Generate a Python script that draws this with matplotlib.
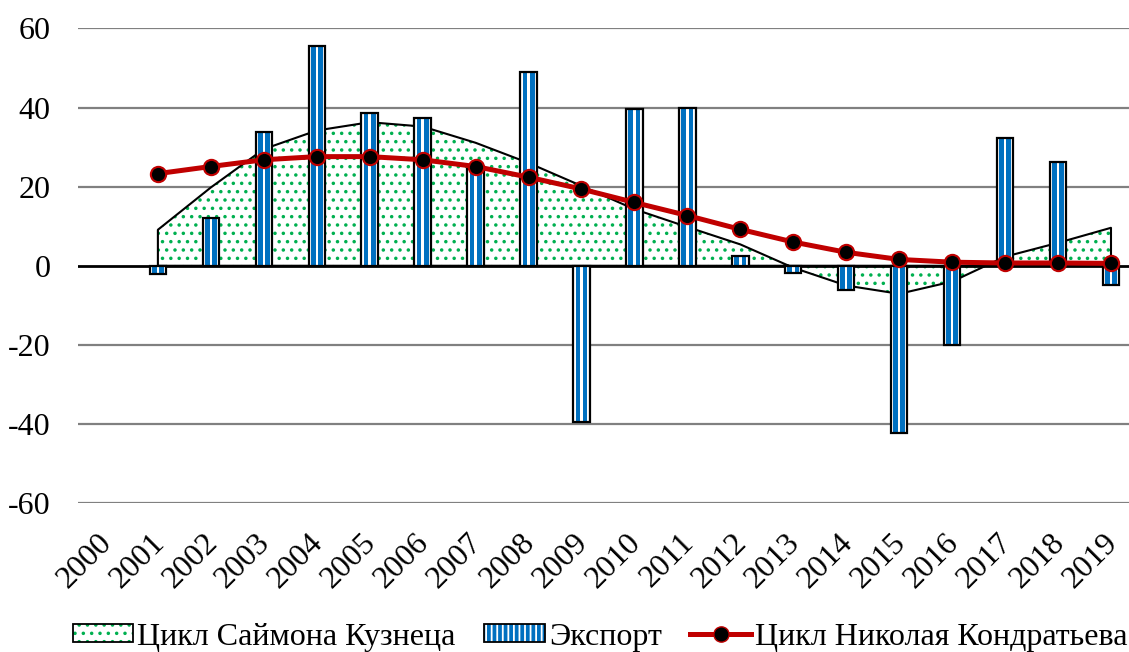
import numpy as np
import matplotlib
matplotlib.use('Agg')
import matplotlib.pyplot as plt
from matplotlib.patches import Patch
from matplotlib.lines import Line2D
from matplotlib.legend_handler import HandlerTuple
from matplotlib.transforms import ScaledTranslation

plt.rcParams['font.family'] = ['Liberation Serif', 'DejaVu Serif']
plt.rcParams['font.size'] = 23
plt.rcParams['axes.unicode_minus'] = False
plt.rcParams['hatch.linewidth'] = 1.3

# данные
years = [str(y) for y in range(2000, 2020)]
export = [np.nan, -2, 12.2, 33.8, 55.6, 38.6, 37.4, 24.5, 49.1, -39.5,
          39.6, 40.0, 2.5, -1.8, -6.1, -42.2, -20.0, 32.2, 26.2, -4.8]
kuznets = [np.nan, 9.1, 19.8, 29.5, 34.2, 36.3, 35.2, 31.1, 26.0, 20.2,
           14.3, 9.8, 5.4, -0.5, -5.0, -7.1, -4.0, 2.3, 5.8, 9.6]
kondratiev = [np.nan, 23.3, 25.1, 26.8, 27.6, 27.6, 26.8, 25.1, 22.4, 19.4,
              16.0, 12.7, 9.2, 6.0, 3.4, 1.6, 0.9, 0.7, 0.7, 0.6]

x = np.arange(len(years))
blue = '#0070C0'
green = '#00B050'
red = '#C00000'
bw = 0.31

fig = plt.figure(figsize=(11.29, 6.52), dpi=100)
ax = fig.add_axes([0.0695, 0.2285, 0.938, 0.7278])

# сетка
for v in [-60, -40, -20, 20, 40, 60]:
    ax.axhline(v, color='#808080', lw=1.6, zorder=0)

# цикл Кузнеца (область)
xk = x[1:]
yk = np.array(kuznets[1:])
ax.fill_between(xk, 0, yk, facecolor='white', edgecolor=green, hatch='..', lw=0, zorder=1)
ax.fill_between(xk, 0, yk, facecolor='none', edgecolor='black', lw=1.5, zorder=1.5)

ax.axhline(0, color='black', lw=2, zorder=1.8)

# экспорт (столбцы в полоску)
ax.bar(x, export, width=bw, color='white', lw=0, zorder=2)
for off in [-0.068, 0.068]:
    ax.bar(x + off, export, width=0.09, color=blue, lw=0, zorder=2.2)
ax.bar(x, export, width=bw, color='none', edgecolor='black', lw=1.6, zorder=2.5)

# цикл Кондратьева
ax.plot(x, kondratiev, color=red, lw=3.6, marker='o', markersize=11,
        markerfacecolor='black', markeredgecolor=red, markeredgewidth=1.5, zorder=3)

ax.set_xlim(-0.5, 19.5)
ax.set_ylim(-60, 60)
ax.set_yticks([-60, -40, -20, 0, 20, 40, 60])
ax.set_xticks(x)
ax.set_xticklabels(years, rotation=45, ha='right', va='top', rotation_mode='anchor')
ax.tick_params(axis='both', length=0)
ax.tick_params(axis='y', pad=20)
ax.tick_params(axis='x', pad=18)
shift = ScaledTranslation(-8 / 100, 0, fig.dpi_scale_trans)
for lab in ax.get_xticklabels():
    lab.set_transform(lab.get_transform() + shift)
for s in ax.spines.values():
    s.set_visible(False)

h_area = (Patch(facecolor='white', edgecolor=green, hatch='..', lw=0),
          Patch(facecolor='none', edgecolor='black', lw=1.3))
h_bar = (Patch(facecolor=blue, edgecolor='white', hatch='|||', lw=0),
         Patch(facecolor='none', edgecolor='black', lw=1.3))
h_line = Line2D([0], [0], color=red, lw=3.6, marker='o', markersize=11,
                markerfacecolor='black', markeredgecolor=red)
fig.legend([h_area, h_bar, h_line],
           ['Цикл Саймона Кузнеца', 'Экспорт', 'Цикл Николая Кондратьева'],
           handler_map={tuple: HandlerTuple(ndivide=1, pad=0)},
           loc='center', bbox_to_anchor=(600 / 1129, 1 - 637 / 652),
           ncol=3, frameon=False, handlelength=1.9, handleheight=0.5,
           handletextpad=0.12, columnspacing=0.9, borderpad=0, borderaxespad=0)

fig.savefig('out.png', dpi=100)
